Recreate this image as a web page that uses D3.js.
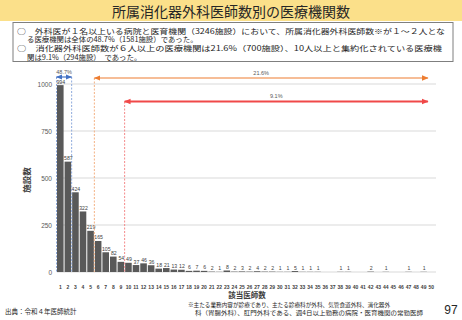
<!DOCTYPE html>
<html>
<head>
<meta charset="utf-8">
<script src="https://cdn.jsdelivr.net/npm/d3@7"></script>
<style>
  body { margin: 0; background: #fff; }
  svg { display: block; font-family: "Noto Sans CJK JP", "Noto Sans", sans-serif; }
</style>
</head>
<body>
<svg id="chart" width="462" height="320"></svg>
<script>
// 所属消化器外科医師数 (1..50) と医療機関数
const doctorCounts = d3.range(1, 51);
const facilityCounts = [994, 587, 424, 322, 219, 165, 105, 82, 54, 49,
  37, 46, 36, 18, 21, 13, 12, 6, 7, 6,
  2, 1, 8, 2, 3, 2, 4, 2, 2, 1,
  1, 5, 1, 1, 1, 0, 0, 1, 1, 0,
  0, 2, 0, 1, 0, 0, 1, 0, 1, 0];
const yTicks = [0, 250, 500, 750, 1000];

const titleText = "所属消化器外科医師数別の医療機関数";
const boxLines = [
  "○　外科医が１名以上いる病院と医育機関（3246施設）において、所属消化器外科医師数※が１～２人とな",
  "る医療機関は全体の48.7%（1581施設）であった。",
  "○　消化器外科医師数が６人以上の医療機関は21.6%（700施設）、10人以上と集約化されている医療機",
  "関は9.1%（294施設）　であった。"
];
// 区間注記: [開始の医師数, 終了の医師数, ラベル]
const spans = [
  {from: 1, to: 2, label: "48.7%", color: "#4472c4", dash: "#8faadc", y: 77, w: 1.2},
  {from: 6, to: 50, label: "21.6%", color: "#ed7d31", dash: "#f4b183", y: 78, w: 1.2},
  {from: 10, to: 50, label: "9.1%", color: "#f04848", dash: "#f48a8a", y: 101.5, w: 2}
];
const noteLines = [
  "※主たる業務内容が診療であり、主たる診療科が外科、気管食道外科、消化器外",
  "科（胃腸外科）、肛門外科である、週4日以上勤務の病院・医育機関の常勤医師"
];

const svg = d3.select("#chart");

// タイトル帯
svg.append("rect").attr("x", 0).attr("y", 0).attr("width", 462).attr("height", 21)
  .attr("fill", "#fbe08a");
svg.append("text").attr("x", 231).attr("y", 16.5).attr("text-anchor", "middle")
  .attr("font-size", 14).attr("fill", "#262626").text(titleText);

// 説明ボックス
svg.append("rect").attr("x", 13).attr("y", 22.5).attr("width", 440).attr("height", 39)
  .attr("fill", "#fff").attr("stroke", "#7f7f7f").attr("stroke-width", 1);
const boxX = [17, 27, 17, 27];
const boxLen = [428, 0, 425, 0];
boxLines.forEach((t, i) => {
  const tx = svg.append("text").attr("x", boxX[i]).attr("y", 33.8 + i * 8.6)
    .attr("font-size", 7.4).attr("fill", "#262626").text(t);
  if (boxLen[i]) tx.attr("textLength", boxLen[i]).attr("lengthAdjust", "spacingAndGlyphs");
});

// スケール
const x = d3.scaleBand().domain(doctorCounts).range([57, 434.5]).paddingInner(0.13).paddingOuter(0);
const y = d3.scaleLinear().domain([0, 1000]).range([272, 84]);

// グリッド
svg.append("g").selectAll("line").data(yTicks).join("line")
  .attr("x1", 57).attr("x2", 436)
  .attr("y1", d => y(d)).attr("y2", d => y(d))
  .attr("stroke", "#d9d9d9").attr("stroke-width", 1);

// y 軸
const yAxis = svg.append("g").attr("transform", "translate(54,0)")
  .call(d3.axisLeft(y).tickValues(yTicks).tickFormat(d3.format("d")).tickSize(0).tickPadding(2));
yAxis.select(".domain").remove();
yAxis.selectAll("text").attr("font-size", 6.5).attr("fill", "#595959")
  .attr("font-family", "'Liberation Sans', Arial, sans-serif");

// 棒
svg.append("g").selectAll("rect").data(doctorCounts).join("rect")
  .attr("x", d => x(d)).attr("width", x.bandwidth())
  .attr("y", (d, i) => y(facilityCounts[i]))
  .attr("height", (d, i) => y(0) - y(facilityCounts[i]))
  .attr("fill", "#595959");

// 棒の値
svg.append("g").selectAll("text").data(doctorCounts.filter((d, i) => facilityCounts[i] > 0)).join("text")
  .attr("x", d => x(d) + x.bandwidth() / 2 + 0.5)
  .attr("y", d => y(facilityCounts[d - 1]) - 1.5)
  .attr("text-anchor", "middle").attr("font-size", 5.2).attr("fill", "#404040")
  .attr("font-family", "'Liberation Sans', Arial, sans-serif")
  .text(d => facilityCounts[d - 1]);

// x 軸
const xAxis = svg.append("g").attr("transform", "translate(0,272)")
  .call(d3.axisBottom(x).tickSize(0).tickPadding(13));
xAxis.select(".domain").remove();
xAxis.selectAll("text").attr("font-size", 5).attr("fill", "#404040").attr("font-weight", "bold")
  .attr("font-family", "'Liberation Sans', Arial, sans-serif");

// 軸タイトル
svg.append("text").attr("x", 247).attr("y", 298).attr("text-anchor", "middle")
  .attr("font-size", 7.5).attr("font-weight", "bold").attr("fill", "#404040").text("該当医師数");
svg.append("text").attr("transform", "translate(30,180) rotate(-90)").attr("text-anchor", "middle")
  .attr("font-size", 8.5).attr("font-weight", "bold").attr("fill", "#404040").text("施設数");

// 矢印マーカー
const defs = svg.append("defs");
spans.forEach((s, i) => {
  ["s", "e"].forEach(k => {
    defs.append("marker").attr("id", `m${i}${k}`)
      .attr("viewBox", "0 0 10 10").attr("refX", k === "e" ? 9 : 1).attr("refY", 5)
      .attr("markerWidth", 5.5 / s.w * 1.2).attr("markerHeight", 5.5 / s.w * 1.2)
      .attr("markerUnits", "strokeWidth").attr("orient", "auto")
      .append("path")
      .attr("d", k === "e" ? "M0,1L10,5L0,9Z" : "M10,1L0,5L10,9Z")
      .attr("fill", s.color);
  });
});

// 区間注記
spans.forEach((s, i) => {
  const x0 = x(s.from) - x.step() * x.paddingInner() / 2;
  const x1 = s.to === 2 ? x(s.to) + x.step() - x.step() * x.paddingInner() / 2 : x(s.to);
  svg.append("line").attr("x1", x0).attr("x2", x0).attr("y1", s.y).attr("y2", y(0))
    .attr("stroke", s.dash).attr("stroke-width", 1).attr("stroke-dasharray", "2,1.5");
  if (s.from === 1) {
    svg.append("line").attr("x1", x1).attr("x2", x1).attr("y1", s.y).attr("y2", y(0))
      .attr("stroke", s.dash).attr("stroke-width", 1).attr("stroke-dasharray", "2,1.5");
  }
  svg.append("line").attr("x1", x0).attr("x2", x1).attr("y1", s.y).attr("y2", s.y)
    .attr("stroke", s.color).attr("stroke-width", s.w)
    .attr("marker-start", `url(#m${i}s)`).attr("marker-end", `url(#m${i}e)`);
  svg.append("text").attr("x", (x0 + x1) / 2).attr("y", s.y - 3.5).attr("text-anchor", "middle")
    .attr("font-size", 5.5).attr("fill", "#595959")
    .attr("font-family", "'Liberation Sans', Arial, sans-serif").text(s.label);
});

// 出典・注記
svg.append("text").attr("x", 5).attr("y", 314).attr("font-size", 6.5).attr("fill", "#262626")
  .text("出典：令和４年医師統計");
noteLines.forEach((t, i) => {
  svg.append("text").attr("x", i === 0 ? 188 : 195).attr("y", 306.5 + i * 8.3)
    .attr("font-size", 6).attr("fill", "#262626")
    .attr("textLength", i === 0 ? 202 : 228).attr("lengthAdjust", "spacingAndGlyphs").text(t);
});
svg.append("text").attr("x", 451).attr("y", 314).attr("text-anchor", "middle")
  .attr("font-size", 12).attr("fill", "#262626")
  .attr("font-family", "'Liberation Sans', Arial, sans-serif").text("97");
</script>
</body>
</html>
